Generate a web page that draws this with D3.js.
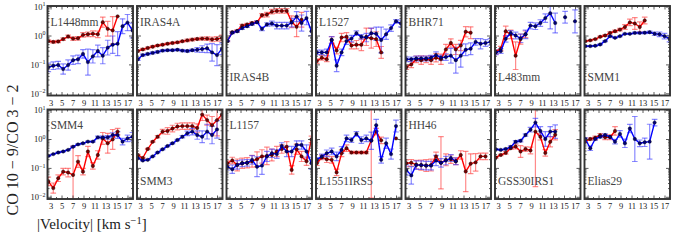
<!DOCTYPE html>
<html><head><meta charset="utf-8">
<script src="https://cdn.jsdelivr.net/npm/d3@7"></script>
<style>body{margin:0;background:#fff} svg{display:block}</style>
</head><body><svg id="c" width="683" height="241"></svg>
<script>
// ---------- data ----------
const vel = [2.6,3.5,4.4,5.3,6.2,7.1,8.0,8.9,9.8,10.7,11.6,12.5,13.4,14.3,15.2,16.1,17.0,17.9];
const xTickMajor = [3,5,7,9,11,13,15,17];
const xTickMinor = [4,6,8,10,12,14,16];
const yTickMajor = [0.01,0.1,1,10];
const yTickExp = {"0.01":"−2","0.1":"−1","1":"0","10":"1"};
const sourceNames = ["L1448mm","IRAS4A","IRAS4B","L1527","BHR71","L483mm","SMM1",
                     "SMM4","SMM3","L1157","L1551IRS5","HH46","GSS30IRS1","Elias29"];
const labelBottom = [false,false,true,false,false,true,true,false,true,false,true,false,true,true];

const l1448mmRed = [0.64,0.6,0.62,0.75,0.92,0.78,0.8,1.05,1.1,1.15,1.1,2.9,1.7,1.5,4.6];
const l1448mmRedErr = [1.1,1.1,1.1,1.1,1.12,1.15,1.15,1.2,1.2,1.25,1.3,1.5,1.8,3,1];
const l1448mmBlue = [0.079,0.09,0.095,0.069,0.095,0.14,0.15,0.23,0.12,0.19,0.29,0.2,0.38,0.48,0.52,2.1,2.8,1.5];
const l1448mmBlueErr = [1.4,1.35,1.35,1.5,1.5,1.4,1.4,1.4,2.8,1.7,1.6,1.9,1.8,2.0,2.6,1.8,1.9,1.8];

const iras4aRed = [0.29,0.33,0.37,0.41,0.45,0.48,0.52,0.55,0.58,0.63,0.68,0.72,0.76,0.78,0.78,0.73,0.76,0.82];
const iras4aRedErr = [1.08,1.08,1.08,1.08,1.08,1.08,1.08,1.08,1.08,1.08,1.1,1.1,1.1,1.12,1.15,1.2,1.2,1.25];
const iras4aBlue = [0.15,0.21,0.23,0.25,0.27,0.3,0.31,0.31,0.32,0.3,0.29,0.31,0.32,0.34,0.36,0.26,0.21,0.35];
const iras4aBlueErr = [1.08,1.08,1.08,1.08,1.08,1.08,1.08,1.08,1.08,1.08,1.1,1.1,1.2,1.3,1.4,2.0,2.3,1.6];

const iras4bRed = [0.64,1.3,1.45,2.2,2.4,2.7,2.9,5.0,5.3,6.7,7.1,7.1,7.1,3.0,2.0,3.5];
const iras4bRedErr = [1.05,1.08,1.08,1.1,1.1,1.1,1.1,1.15,1.2,1.2,1.2,1.2,1.2,1.6,2.2,1.8];
const iras4bBlue = [0.64,1.25,1.4,1.8,2.1,2.5,2.9,1.7,2.4,2.6,2.2,2.2,2.2,2.8,4.5,2.7,4.0,1.4];
const iras4bBlueErr = [1.05,1.08,1.08,1.1,1.1,1.1,1.1,1.15,1.15,1.2,1.3,1.3,1.3,1.4,1.5,1.9,1.7,1.4];

const l1527Red = [0.13,0.17,0.15,0.7,0.3,0.85,0.9,0.45,0.48,0.48,0.9,0.8,0.75,0.26];
const l1527RedErr = [1.2,1.2,1.2,1.3,1.3,1.4,1.4,1.3,1.4,1.6,2.0,2.2,1.8,1.6];
const l1527Blue = [0.26,0.26,0.26,0.7,0.09,0.26,0.64,0.78,1.2,0.9,0.85,1.2,1.15,0.7,1.1,1.8,3.1,2.6];
const l1527BlueErr = [1.2,1.2,1.3,1.3,1.6,1.3,1.3,1.3,1.2,1.2,1.4,1.5,1.7,2.8,1.5,1.3,1.15,1.3];

const bhr71Red = [0.08,0.1,0.15,0.14,0.15,0.14,0.17,0.15,0.33,0.55,0.33,0.45,1.35,1.25];
const bhr71RedErr = [1.2,1.3,1.3,1.4,1.3,1.4,1.4,1.5,1.5,1.4,1.5,1.5,1.5,1.6];
const bhr71Blue = [0.15,0.15,0.16,0.16,0.16,0.17,0.21,0.17,0.18,0.2,0.14,0.2,0.32,0.35,0.6,0.52,0.55,0.6];
const bhr71BlueErr = [1.2,1.2,1.2,1.2,1.2,1.2,1.3,1.2,1.3,1.8,2.8,2.5,1.6,1.6,1.3,1.5,1.3,1.3];

const l483Red = [0.27,0.35,1.4,1.1,0.2,0.75,1.1];
const l483RedErr = [1.2,1.2,1.5,1.4,3,1.5,1.3];
const l483Blue = [0.26,0.29,0.77,1.23,1.0,0.8,1.1,2.2,2.1,2.7,4.0,5.9,2.7,null,4.3,null,3.1];
const l483BlueErr = [1.2,1.2,1.3,1.2,1.3,1.4,1.4,1.3,1.3,1.3,1.4,3.5,2.2,1,1.6,1,2.5];

const smm1Red = [0.64,0.68,0.75,0.9,1.0,1.23,1.4,1.6,1.97,2.85,2.6,1.97,3.3];
const smm1RedErr = [1.05,1.05,1.05,1.05,1.07,1.08,1.1,1.1,1.2,1.3,1.6,1.5,1.3];
const smm1Blue = [0.43,0.43,0.44,0.49,0.64,0.95,0.83,0.95,1.14,1.14,1.23,1.23,1.25,1.3,1.15,1.1,0.95,0.78];
const smm1BlueErr = [1.04,1.04,1.04,1.04,1.04,1.05,1.05,1.05,1.05,1.05,1.06,1.06,1.08,1.1,1.15,1.2,1.25,1.3];

const smm4Red = [0.034,0.02,0.044,0.074,0.069,0.057,0.165,0.074,0.37,0.117,0.28,1.05,0.71,0.97,1.8];
const smm4RedErr = [1.4,1.5,1.3,1.3,1.4,10,1.6,1.3,1.5,1.3,1.4,1.6,2.2,2.2,1.3];
const smm4Blue = [0.26,0.3,0.34,0.37,0.42,0.54,0.65,0.71,0.81,0.81,1.14,1.14,1.14,1.37,1.37,0.81,1.05,1.2];
const smm4BlueErr = [1.03,1.03,1.03,1.03,1.03,1.04,1.04,1.04,1.05,1.05,1.1,1.1,1.15,1.2,1.3,1.3,1.3,1.4];

const smm3Red = [0.28,0.22,0.45,0.8,1.2,1.8,1.9,2.3,2.7,2.8,2.8,2.8,2.4,7.0,4.5,3.0,4.5,7.0];
const smm3RedErr = [1.05,1.05,1.05,1.05,1.1,1.2,1.3,1.3,1.3,1.3,1.3,1.3,1.4,1.6,1.5,2.0,3.5,1.4];
const smm3Blue = [0.22,0.18,0.19,0.25,0.34,0.44,0.57,0.71,0.92,1.2,1.57,1.8,1.37,1.2,1.8,1.37,2.15];
const smm3BlueErr = [1.03,1.03,1.03,1.03,1.03,1.04,1.04,1.05,1.05,1.1,1.2,1.3,1.4,1.6,1.8,2.0,2.0];

const l1157Red = [0.145,0.18,0.127,0.145,0.15,0.17,0.2,0.25,0.26,0.28,0.37,0.45,0.54,0.085,0.44,0.25,0.17,0.97];
const l1157RedErr = [1.2,1.3,1.6,1.5,1.5,1.6,1.8,1.7,2.0,1.6,1.5,1.4,1.5,1.4,1.5,1.5,1.4,1.3];
const l1157Blue = [0.11,0.09,0.127,0.145,0.15,0.19,0.11,0.12,0.25,0.32,0.3,0.57,0.37,0.37,0.62,0.62,0.37,0.145];
const l1157BlueErr = [1.3,1.4,1.4,1.3,1.3,1.4,2.2,2.0,1.5,1.4,1.4,1.3,1.5,1.5,1.4,1.4,1.7,1.6];

const l1551Red = [0.145,0.23,0.2,0.19,0.07,0.32,0.48,0.34,0.34,0.34,0.34,0.9,1.8,0.9,null,null,1.05];
const l1551RedErr = [1.2,1.2,1.3,1.3,1.3,1.3,1.3,1.1,1.1,1.1,1.1,100,1.3,1.3,1,1,1];
const l1551Blue = [0.19,0.25,0.32,0.37,0.25,0.42,1.05,0.92,1.5,0.92,1.05,0.87,3.0,0.19,0.71,0.3,2.8];
const l1551BlueErr = [1.2,1.2,1.3,1.3,1.4,1.3,1.3,1.2,1.2,1.3,1.3,2.0,1.6,1.3,1.5,1.5,1.6];

const hh46Red = [0.145,0.15,0.13,0.125,0.12,0.125,0.25,0.15,0.19,0.2,0.17,0.28,0.075,0.14,0.155,0.25,0.25];
const hh46RedErr = [1.3,1.3,1.4,1.5,1.6,1.6,1.4,8,1.6,1.4,1.3,1.4,5,2.2,2.0,1.3,1.3];
const hh46Blue = [0.085,0.055,0.125,0.125,0.12,0.12,0.18,0.15,0.18,0.22,0.17];
const hh46BlueErr = [1.5,2.0,1.4,1.4,1.4,1.4,1.5,1.4,1.4,1.3,1.3];

const gss30Red = [0.23,0.28,0.33,0.48,0.55,0.37,0.45,0.4,1.8,1.2,0.33,0.8,1.4];
const gss30RedErr = [1.05,1.05,1.1,1.1,1.2,1.6,1.2,1.3,80,1.3,1.3,1.5,1.5];
const gss30Blue = [0.44,0.42,0.45,0.53,0.8,0.87,1.37,2.1,3.7,1.9,1.0,1.8,1.8];
const gss30BlueErr = [1.05,1.05,1.05,1.1,1.1,1.1,1.1,1.2,1.4,1.4,1.8,1.5,1.7];

const elias29Red = [0.82,1.0,1.1,1.35,1.15,1.15,1.9];
const elias29RedErr = [1.1,1.1,1.15,1.15,1.2,1.2,1.4];
const elias29Blue = [1.0,0.48,1.0,1.2,1.37,1.2,0.81,1.5,0.71,2.3,1.0,0.71,0.77,0.81,3.7];
const elias29BlueErr = [1.1,1.2,1.1,1.1,1.1,1.1,1.2,1.3,1.4,1.4,6,1.3,1.4,4,1.3];

const redSeries = [l1448mmRed,iras4aRed,iras4bRed,l1527Red,bhr71Red,l483Red,smm1Red,
                   smm4Red,smm3Red,l1157Red,l1551Red,hh46Red,gss30Red,elias29Red];
const redErrs = [l1448mmRedErr,iras4aRedErr,iras4bRedErr,l1527RedErr,bhr71RedErr,l483RedErr,smm1RedErr,
                 smm4RedErr,smm3RedErr,l1157RedErr,l1551RedErr,hh46RedErr,gss30RedErr,elias29RedErr];
const blueSeries = [l1448mmBlue,iras4aBlue,iras4bBlue,l1527Blue,bhr71Blue,l483Blue,smm1Blue,
                    smm4Blue,smm3Blue,l1157Blue,l1551Blue,hh46Blue,gss30Blue,elias29Blue];
const blueErrs = [l1448mmBlueErr,iras4aBlueErr,iras4bBlueErr,l1527BlueErr,bhr71BlueErr,l483BlueErr,smm1BlueErr,
                  smm4BlueErr,smm3BlueErr,l1157BlueErr,l1551BlueErr,hh46BlueErr,gss30BlueErr,elias29BlueErr];

// ---------- layout ----------
const svg = d3.select("#c");
const left0 = 47.5, colStep = 89.5, pw = 85.5, ph = 89.5;
const rowTops = [6, 109.5];
const serif = "'Liberation Serif','DejaVu Serif',serif";

const styles = {
  red:  {line:"#ff0000", dot:"#7a0000", err:"rgba(255,60,60,0.6)"},
  blue: {line:"#0000ff", dot:"#00007a", err:"rgba(60,60,255,0.6)"}
};

const yMinor = [];
[0.01,0.1,1].forEach(d => { for (let k=2;k<10;k++) yMinor.push(d*k); });

sourceNames.forEach((name, i) => {
  const col = i % 7, row = Math.floor(i / 7);
  const x0 = left0 + col * colStep, y0 = rowTops[row];
  const g = svg.append("g").attr("transform", `translate(${x0},${y0})`);
  const x = d3.scaleLinear().domain([2.45, 18]).range([0, pw]);
  const y = d3.scaleLog().domain([0.01, 10]).range([87.3, 0.6]);

  const cid = "clip" + i;
  g.append("clipPath").attr("id", cid).append("rect")
    .attr("x", 0).attr("y", 0).attr("width", pw).attr("height", ph);
  const plot = g.append("g").attr("clip-path", `url(#${cid})`);

  const makeData = (vals, errs) => vals.map((v, k) => ({v: vel[k], y: v, e: errs[k]}));
  const series = [
    {key:"red", data: makeData(redSeries[i], redErrs[i])},
    {key:"blue", data: makeData(blueSeries[i], blueErrs[i])}
  ];

  // error bars
  series.forEach(s => {
    const st = styles[s.key];
    const eg = plot.append("g").attr("stroke", st.err).attr("stroke-width", 1.2).attr("fill", "none");
    s.data.filter(d => d.y != null && d.e > 1).forEach(d => {
      const lo = Math.max(d.y / d.e, 0.003), hi = d.y * d.e;
      const cx = x(d.v);
      eg.append("line").attr("x1", cx).attr("x2", cx).attr("y1", y(lo)).attr("y2", y(hi));
      eg.append("line").attr("x1", cx - 2.8).attr("x2", cx + 2.8).attr("y1", y(lo)).attr("y2", y(lo));
      eg.append("line").attr("x1", cx - 2.8).attr("x2", cx + 2.8).attr("y1", y(hi)).attr("y2", y(hi));
    });
  });

  // lines and markers
  const line = d3.line().defined(d => d.y != null).x(d => x(d.v)).y(d => y(d.y));
  series.forEach(s => {
    const st = styles[s.key];
    plot.append("path").datum(s.data).attr("d", line)
      .attr("fill", "none").attr("stroke", st.line).attr("stroke-width", 1.4)
      .attr("stroke-linejoin", "round");
    plot.selectAll(null).data(s.data.filter(d => d.y != null)).enter().append("circle")
      .attr("cx", d => x(d.v)).attr("cy", d => y(d.y)).attr("r", 1.7)
      .attr("fill", st.dot).attr("stroke", "#000").attr("stroke-width", 0.4);
  });

  // axes (ticks inward)
  const tickCol = "#333";
  const styleAxis = sel => { sel.select(".domain").remove(); sel.selectAll("line").attr("stroke", tickCol).attr("stroke-width", 0.8); };
  g.append("g").attr("transform", `translate(0,${ph})`)
    .call(d3.axisBottom(x).tickValues(xTickMajor).tickSizeInner(-3.5).tickSizeOuter(0).tickPadding(4))
    .call(styleAxis)
    .call(a => a.selectAll("text").attr("font-family", serif).attr("font-size", 8.5).attr("fill", "#222"));
  g.append("g").attr("transform", `translate(0,${ph})`)
    .call(d3.axisBottom(x).tickValues(xTickMinor).tickSizeInner(-2).tickSizeOuter(0).tickFormat(""))
    .call(styleAxis);
  g.append("g")
    .call(d3.axisTop(x).tickValues(xTickMajor).tickSizeInner(-3.5).tickSizeOuter(0).tickFormat(""))
    .call(styleAxis);
  g.append("g")
    .call(d3.axisTop(x).tickValues(xTickMinor).tickSizeInner(-2).tickSizeOuter(0).tickFormat(""))
    .call(styleAxis);

  const yl = g.append("g")
    .call(d3.axisLeft(y).tickValues(yTickMajor).tickSizeInner(-4).tickSizeOuter(0).tickPadding(3)
      .tickFormat(d => col === 0 ? "10" : ""))
    .call(styleAxis);
  if (col === 0) {
    yl.selectAll("text").attr("font-family", serif).attr("font-size", 8.5).attr("fill", "#222")
      .each(function(d) {
        d3.select(this).append("tspan").attr("font-size", 6).attr("dy", -3.5).text(yTickExp[String(d)]);
      })
      .attr("x", -2).attr("text-anchor", "end");
  }
  g.append("g").call(d3.axisLeft(y).tickValues(yMinor).tickSizeInner(-2).tickSizeOuter(0).tickFormat("")).call(styleAxis);
  g.append("g").attr("transform", `translate(${pw},0)`)
    .call(d3.axisRight(y).tickValues(yTickMajor).tickSizeInner(-4).tickSizeOuter(0).tickFormat(""))
    .call(styleAxis);
  g.append("g").attr("transform", `translate(${pw},0)`)
    .call(d3.axisRight(y).tickValues(yMinor).tickSizeInner(-2).tickSizeOuter(0).tickFormat(""))
    .call(styleAxis);

  // frame
  g.append("rect").attr("x", 0).attr("y", 0).attr("width", pw).attr("height", ph)
    .attr("fill", "none").attr("stroke", "#333").attr("stroke-width", 1.9);

  // label
  g.append("text").attr("x", 3).attr("y", labelBottom[i] ? ph - 14.5 : 19.5)
    .attr("font-family", serif).attr("font-size", 11.5).attr("fill", "#444").text(name);
});

// axis titles
svg.append("text").attr("transform", "translate(18,150) rotate(-90)")
  .attr("text-anchor", "middle").attr("font-family", serif).attr("font-size", 16).attr("fill", "#222")
  .text("CO 10 − 9/CO 3 − 2");
const xt = svg.append("text").attr("x", 37).attr("y", 229)
  .attr("font-family", serif).attr("font-size", 15).attr("fill", "#222");
xt.append("tspan").text("|Velocity| [km s");
xt.append("tspan").attr("font-size", 10.5).attr("dy", -5.5).text("−1");
xt.append("tspan").attr("dy", 5.5).text("]");
</script>
</body></html>
